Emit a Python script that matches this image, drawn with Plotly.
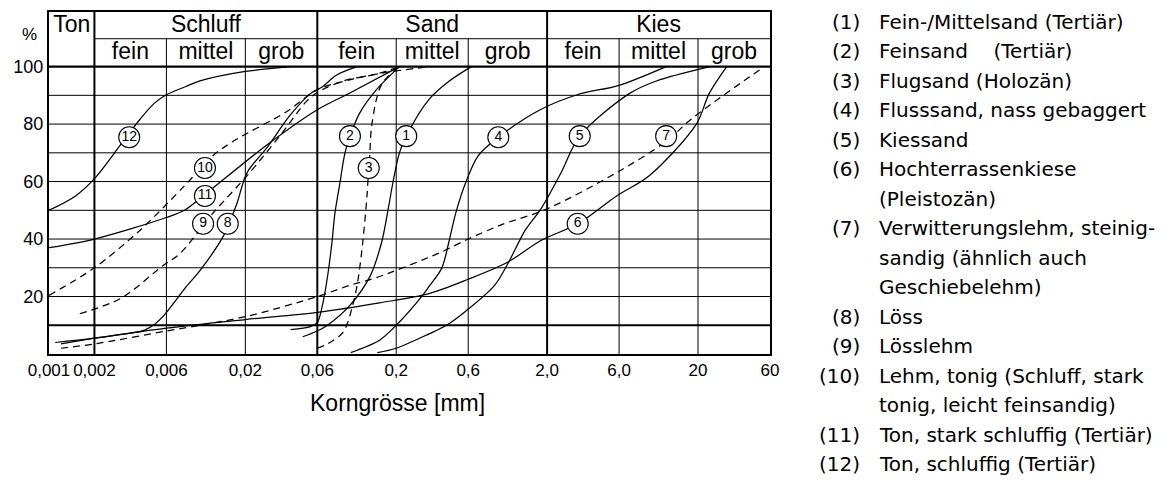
import math
import plotly.graph_objects as go

# ---------------- data (grain size in mm, passing in %) ----------------
c1_d = [0.048, 0.06, 0.07, 0.099, 0.134, 0.16, 0.175, 0.19, 0.21, 0.233, 0.33, 0.45, 0.63]
c1_p = [6, 8, 10, 17, 27, 38.8, 49, 59.5, 70, 75.8, 88.6, 95, 100]

c2_d = [0.04, 0.054, 0.06, 0.0655, 0.0706, 0.075, 0.0785, 0.0847, 0.0915, 0.0987, 0.115, 0.148, 0.21]
c2_p = [8.5, 9.5, 11, 18, 28, 38.8, 49, 59.5, 70, 75.8, 84, 92, 100]

c3_d = [0.06, 0.07, 0.089, 0.103, 0.111, 0.12, 0.128, 0.1315, 0.1335, 0.138, 0.16, 0.21]
c3_p = [2, 3.5, 7.6, 17, 25, 38.8, 55, 64.7, 69, 80, 93.8, 100]

c4_d = [0.1, 0.155, 0.2, 0.3, 0.33, 0.4, 0.446, 0.496, 0.576, 0.7, 0.95, 1.8, 3.2, 6.0, 12.3]
c4_p = [0.5, 4.8, 10, 20.5, 23.5, 29.8, 38.8, 49, 59.5, 69, 75.4, 85, 90.3, 93.5, 100]

c5_d = [0.15, 0.2, 0.33, 0.43, 0.58, 0.9, 1.1, 1.43, 1.82, 2.47, 3.29, 7.0, 10.6, 24]
c5_p = [0.5, 2, 7, 10, 15, 24, 31.5, 43, 50.5, 63, 75.8, 90.6, 95, 100]

c6_d = [0.0011, 0.002, 0.006, 0.02, 0.06, 0.155, 0.33, 0.6, 1.1, 1.82, 3.19, 5.78, 9.5, 19.5, 23.7, 31]
c6_p = [4, 5.5, 9, 12, 14.5, 17.8, 21, 26, 32, 39.5, 45.3, 55, 62, 80, 90.6, 100]

c7_d = [0.0012, 0.002, 0.006, 0.02, 0.06, 0.1, 0.148, 0.38, 0.6, 1.0, 2.0, 6.0, 12.3, 18.3, 55]
c7_p = [2, 3.5, 8, 13, 20, 24, 26.6, 35, 40, 45, 50.5, 63.6, 74, 82, 100]

c8_d = [0.0012, 0.002, 0.0043, 0.005, 0.0058, 0.007, 0.008, 0.01, 0.0143, 0.0175, 0.0205, 0.028, 0.0395, 0.054, 0.065, 0.08, 0.11]
c8_p = [3.5, 5.5, 8.3, 10.3, 13.5, 19, 23, 29, 41, 52, 63, 72, 83, 90.6, 93, 97, 100]

c9_d = [0.0016, 0.003, 0.0057, 0.0074, 0.0122, 0.0205, 0.034, 0.051, 0.06, 0.089, 0.15, 0.21]
c9_p = [14, 19.4, 30.8, 35, 49, 62, 76, 88, 91, 95, 97.5, 100]

c10_d = [0.001, 0.002, 0.004, 0.0079, 0.0122, 0.0166, 0.0377, 0.06, 0.1, 0.155, 0.33]
c10_p = [20.4, 30, 43, 58.5, 69, 74, 84.4, 92, 95.5, 97.6, 100]

c11_d = [0.001, 0.002, 0.006, 0.0079, 0.0105, 0.0282, 0.06, 0.1, 0.21]
c11_p = [37, 40, 47.5, 50, 55, 73, 85, 91, 100]

c12_d = [0.001, 0.0015, 0.002, 0.003, 0.004, 0.005, 0.006, 0.008, 0.01, 0.02, 0.04]
c12_p = [50, 55, 61, 73, 81.6, 87.3, 90.2, 93, 95, 98.3, 100]

curve_ids = ["1", "2", "3", "4", "5", "6", "7", "8", "9", "10", "11", "12"]
curve_d = [c1_d, c2_d, c3_d, c4_d, c5_d, c6_d, c7_d, c8_d, c9_d, c10_d, c11_d, c12_d]
curve_p = [c1_p, c2_p, c3_p, c4_p, c5_p, c6_p, c7_p, c8_p, c9_p, c10_p, c11_p, c12_p]
dashed_ids = ["3", "7", "9", "10"]

# circled label positions (mm, %)
label_d = [0.233, 0.0987, 0.1315, 0.95, 3.29, 3.19, 12.3, 0.0153, 0.0105, 0.0108, 0.0108, 0.0034]
label_p = [75.8, 75.8, 64.7, 75.4, 75.8, 45.3, 75.8, 45.3, 45.3, 64.7, 55, 75.4]

# axis ticks
x_tickvals = [0.001, 0.002, 0.006, 0.02, 0.06, 0.2, 0.6, 2.0, 6.0, 20, 60]
x_ticktext = ["0,001", "0,002", "0,006", "0,02", "0,06", "0,2", "0,6", "2,0", "6,0", "20", "60"]
y_tickvals = [20, 40, 60, 80, 100]
y_ticktext = ["20", "40", "60", "80", "100"]

# classification header
main_classes = ["Ton", "Schluff", "Sand", "Kies"]
main_bounds = [0.001, 0.002, 0.06, 2.0, 60]
sub_classes = ["fein", "mittel", "grob"] * 3
sub_bounds = [0.002, 0.006, 0.02, 0.06, 0.2, 0.6, 2.0, 6.0, 20, 60]

legend_nums = ["(1)", "(2)", "(3)", "(4)", "(5)", "(6)", "", "(7)", "", "", "(8)", "(9)", "(10)", "", "(11)", "(12)"]
legend_texts = ["Fein-/Mittelsand (Tertiär)", "Feinsand\u00a0\u00a0\u00a0\u00a0(Tertiär)", "Flugsand (Holozän)",
                "Flusssand, nass gebaggert", "Kiessand", "Hochterrassenkiese", "(Pleistozän)",
                "Verwitterungslehm, steinig-", "sandig (ähnlich auch", "Geschiebelehm)", "Löss", "Lösslehm",
                "Lehm, tonig (Schluff, stark", "tonig, leicht feinsandig)", "Ton, stark schluffig (Tertiär)",
                "Ton, schluffig (Tertiär)"]

x_title = "Korngrösse [mm]"
y_unit = "%"

# ---------------- layout geometry ----------------
W, H = 1166, 480
L, R, T, B = 49, 396, 10, 126
YTOP = 119.0       # top of header box (in % units)
YROW = 109.7       # separator between header rows
FONT = "Liberation Sans, Arial, sans-serif"

fig = go.Figure()

def add_lines(segs, width):
    xs, ys = [], []
    for (x0, y0, x1, y1) in segs:
        xs += [x0, x1, None]
        ys += [y0, y1, None]
    fig.add_trace(go.Scatter(x=xs, y=ys, mode="lines", hoverinfo="skip",
                             line=dict(color="black", width=width), showlegend=False))

xmin, xmax = main_bounds[0], main_bounds[-1]
# horizontal grid
thin_h = [(xmin, v, xmax, v) for v in range(20, 100, 10)]
add_lines(thin_h, 1)
add_lines([(xmin, 10, xmax, 10)], 1.8)
add_lines([(xmin, 100, xmax, 100)], 2.2)
add_lines([(main_bounds[1], YROW, xmax, YROW)], 1)
# vertical grid
minor_v = [b for b in sub_bounds if b not in main_bounds]
add_lines([(b, 0, b, YROW) for b in minor_v], 1)
add_lines([(b, 0, b, YTOP) for b in main_bounds[1:-1]], 2)

# curves
for cid, d, p in zip(curve_ids, curve_d, curve_p):
    fig.add_trace(go.Scatter(
        x=d, y=p, mode="lines", hoverinfo="skip", showlegend=False,
        line=dict(color="black", width=1.25, shape="spline", smoothing=0.9,
                  dash="7px,5px" if cid in dashed_ids else "solid")))

# circled labels
fig.add_trace(go.Scatter(
    x=label_d, y=label_p, mode="markers+text", text=curve_ids, showlegend=False,
    hoverinfo="skip", textposition="middle center",
    textfont=dict(family=FONT, size=14, color="black"),
    marker=dict(symbol="circle", size=21, color="white", line=dict(color="black", width=1.1))))

# header texts
def gmean(a, b):
    return math.sqrt(a * b)

main_x = [gmean(main_bounds[i], main_bounds[i + 1]) for i in range(len(main_classes))]
fig.add_trace(go.Scatter(x=main_x, y=[113.9] * len(main_x), mode="text", text=main_classes,
                         textposition="middle center", hoverinfo="skip", showlegend=False,
                         textfont=dict(family=FONT, size=23, color="black")))
sub_x = [gmean(sub_bounds[i], sub_bounds[i + 1]) for i in range(len(sub_classes))]
fig.add_trace(go.Scatter(x=sub_x, y=[104.6] * len(sub_x), mode="text", text=sub_classes,
                         textposition="middle center", hoverinfo="skip", showlegend=False,
                         textfont=dict(family=FONT, size=23, color="black")))

plot_w = W - L - R
plot_h = H - T - B

def px(xp):
    return (xp - L) / plot_w

def py(yp):
    return (H - B - yp) / plot_h

ann = []
ann.append(dict(text=x_title, x=px(397), y=py(403), xref="paper", yref="paper",
                xanchor="center", yanchor="middle", showarrow=False,
                font=dict(family=FONT, size=23, color="black")))
ann.append(dict(text=y_unit, x=px(29), y=py(33), xref="paper", yref="paper",
                xanchor="center", yanchor="middle", showarrow=False,
                font=dict(family=FONT, size=17, color="black")))
LEG_FONT = "DejaVu Sans, sans-serif"
for i, (n, t) in enumerate(zip(legend_nums, legend_texts)):
    yc = 20 + 29.67 * i
    if n:
        ann.append(dict(text=n, x=px(862), y=py(yc), xref="paper", yref="paper",
                        xanchor="right", yanchor="middle", showarrow=False,
                        font=dict(family=LEG_FONT, size=20, color="black")))
    ann.append(dict(text=t, x=px(877), y=py(yc), xref="paper", yref="paper",
                    xanchor="left", yanchor="middle", showarrow=False,
                    font=dict(family=LEG_FONT, size=20, color="black")))

fig.update_layout(
    width=W, height=H, margin=dict(l=L, r=R, t=T, b=B, pad=0),
    paper_bgcolor="white", plot_bgcolor="white",
    annotations=ann, showlegend=False,
    xaxis=dict(type="log", range=[math.log10(xmin), math.log10(xmax)],
               tickvals=x_tickvals, ticktext=x_ticktext, ticks="", showgrid=False,
               tickangle=0, ticklabelstandoff=0,
               zeroline=False, showline=True, mirror=True, linecolor="black", linewidth=2,
               tickfont=dict(family=FONT, size=17, color="black")),
    yaxis=dict(range=[0, YTOP], tickvals=y_tickvals, ticktext=y_ticktext, ticks="",
               showgrid=False, zeroline=False, showline=True, mirror=True,
               linecolor="black", linewidth=2,
               tickfont=dict(family=FONT, size=18, color="black")),
)

fig.write_html("out.html")
